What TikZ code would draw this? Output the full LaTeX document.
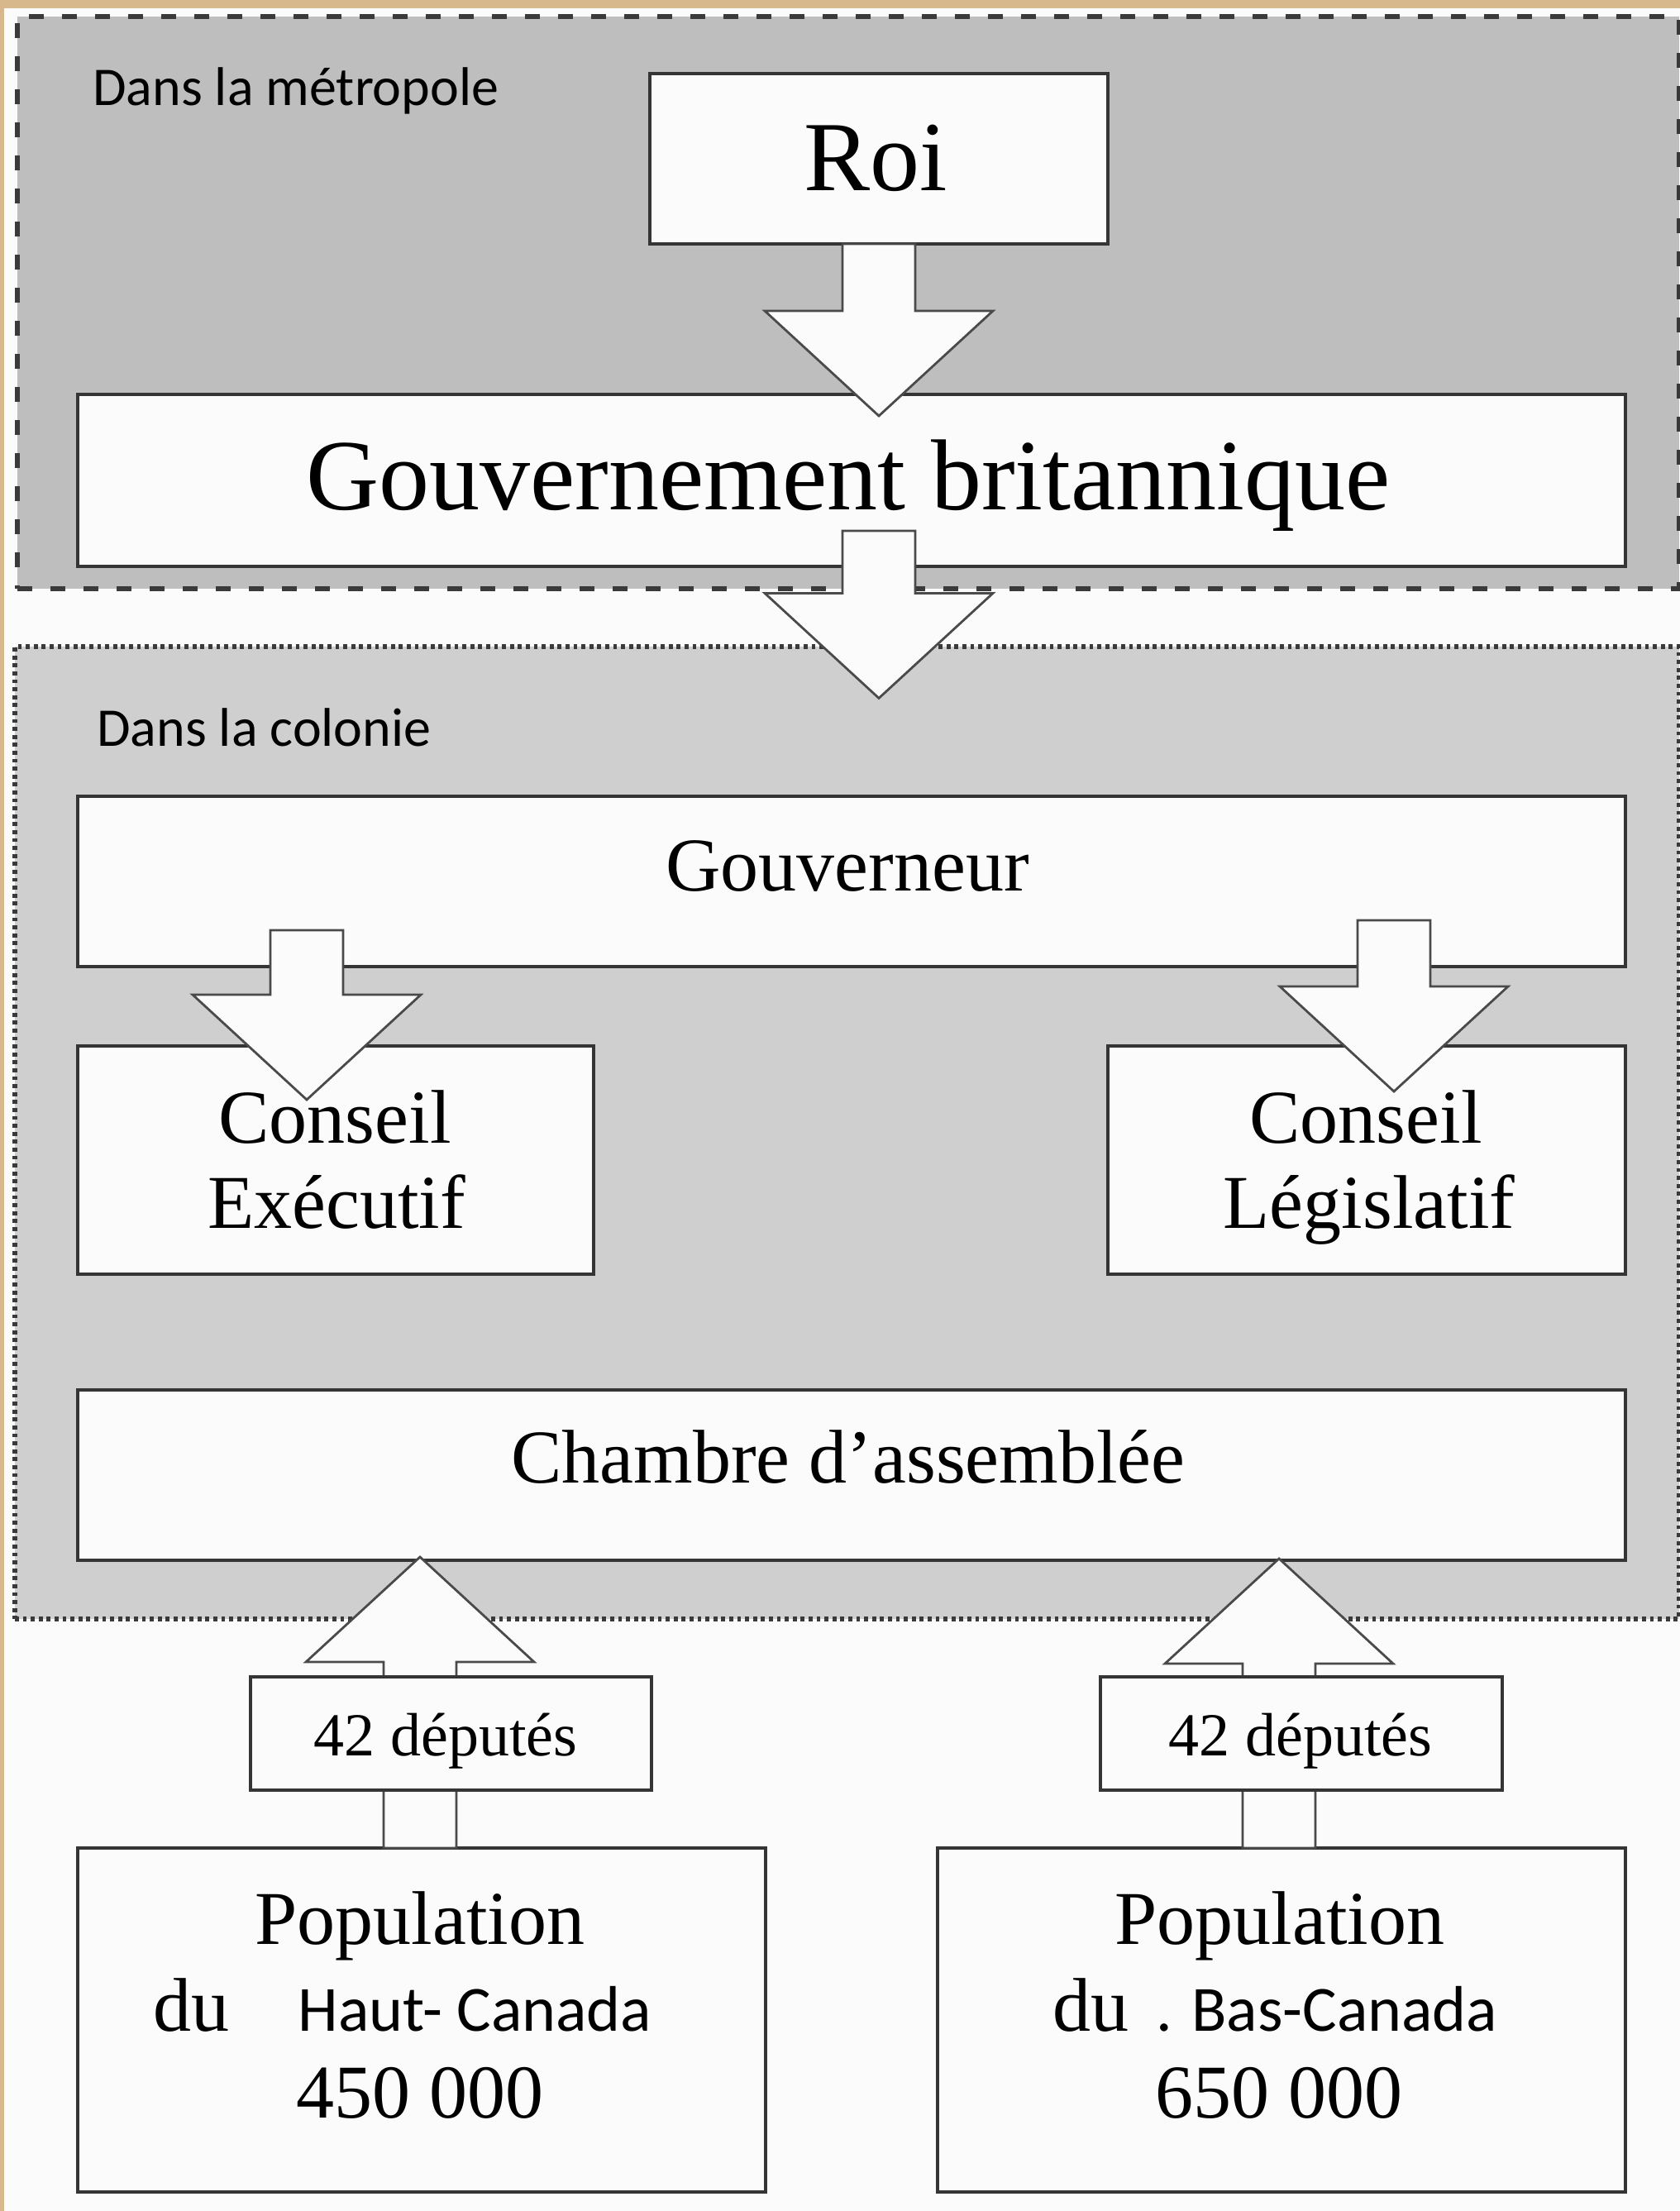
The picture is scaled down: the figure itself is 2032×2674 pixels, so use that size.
\documentclass[tikz,border=0pt]{standalone}
\usepackage{fontspec}
\setmainfont{Liberation Serif}
\newfontfamily\calib{Carlito}
\usetikzlibrary{calc}
\definecolor{woodtan}{HTML}{D6B88C}
\definecolor{boxline}{HTML}{353535}
\definecolor{arrowline}{HTML}{4A4A4A}
\definecolor{zoneline}{HTML}{3A3A3A}
\definecolor{metrofill}{HTML}{BEBEBE}
\definecolor{colofill}{HTML}{CFCFCF}
\definecolor{pagebg}{HTML}{FBFBFB}
\newcommand\arrowdown[2]{%
  \draw[barrow] let \p1=(#1), \p2=(#2) in
    (\x2-22pt,\y1) -- (\x2+22pt,\y1) -- (\x2+22pt,\y2+63.5pt) -- (\x2+69pt,\y2+63.5pt)
    -- (\x2,\y2) -- (\x2-69pt,\y2+63.5pt) -- (\x2-22pt,\y2+63.5pt) -- cycle;}
\newcommand\arrowup[2]{%
  \draw[barrow] let \p1=(#1), \p2=(#2) in
    (\x2-22pt,\y1) -- (\x2+22pt,\y1) -- (\x2+22pt,\y2-63.5pt) -- (\x2+69pt,\y2-63.5pt)
    -- (\x2,\y2) -- (\x2-69pt,\y2-63.5pt) -- (\x2-22pt,\y2-63.5pt) -- cycle;}
\begin{document}
\begin{tikzpicture}[x=0.5pt,y=-0.5pt,
  box/.style={rectangle, draw=boxline, line width=1.9pt, fill=pagebg, inner sep=0pt, outer sep=0pt},
  barrow/.style={draw=arrowline, line width=1.4pt, fill=pagebg, line join=miter},
  lbl/.style={inner sep=0pt, outer sep=0pt, anchor=base},
  big/.style={font=\fontsize{60}{72}\selectfont},
  mid/.style={font=\fontsize{46}{55}\selectfont},
  small/.style={font=\fontsize{37}{44}\selectfont},
  sanslbl/.style={font=\calib\fontsize{33}{40}\selectfont, inner sep=0pt, anchor=base west},
  sansname/.style={font=\calib\fontsize{39}{47}\selectfont, inner sep=0pt, anchor=base west},
]
\useasboundingbox (0,0) rectangle (2032,2674);
\fill[pagebg] (0,0) rectangle (2032,2674);
\fill[woodtan] (0,0) rectangle (2032,10);
\fill[woodtan] (0,0) rectangle (5,2674);

% zones
\node[rectangle, draw=zoneline, fill=metrofill, line width=3pt, dash pattern=on 9pt off 11pt,
      inner sep=0pt, minimum width=1005pt, minimum height=346pt] (metro) at (1026,366) {};
\node[rectangle, draw=zoneline, fill=colofill, line width=2.6pt, dash pattern=on 2.4pt off 2.4pt,
      inner sep=0pt, minimum width=1006.5pt, minimum height=588pt] (colonie) at (1024.5,1370) {};
\node[sanslbl] (lmetro) at (112,128) {Dans la métropole};
\node[sanslbl] (lcolonie) at (117,902) {Dans la colonie};

% boxes
\node[box, minimum width=277pt, minimum height=103pt] (roi) at (1063,192) {};
\node[box, minimum width=936pt, minimum height=104pt] (gb) at (1030,581) {};
\node[box, minimum width=936pt, minimum height=103pt] (gouv) at (1030,1066) {};
\node[box, minimum width=312pt, minimum height=138pt] (ce) at (406,1403) {};
\node[box, minimum width=313pt, minimum height=138pt] (cl) at (1653,1403) {};
\node[box, minimum width=936pt, minimum height=103pt] (ch) at (1030,1784) {};
\node[box, minimum width=416pt, minimum height=208pt] (p1) at (510,2443) {};
\node[box, minimum width=416pt, minimum height=208pt] (p2) at (1550,2443) {};

% block arrows
\arrowdown{roi.south}{$(roi.south)+(0,208)$}
\arrowdown{$(roi.south |- gb.south)+(0,-43)$}{$(roi.south |- colonie.north)+(0,65)$}
\arrowdown{$(gouv.south)+(0,-44)$}{$(ce.north)+(-35,65)$}
\arrowdown{$(gouv.south)+(0,-56)$}{$(cl.north)+(33,55)$}
\arrowup{p1.north}{$(p1.north |- ch.south)+(-2,-4)$}
\arrowup{p2.north}{$(p2.north |- ch.south)+(-3,-2)$}

% deputies boxes (on top of the arrow shafts)
\node[box, minimum width=242.5pt, minimum height=68.5pt] (d1) at (545.5,2096.5) {};
\node[box, minimum width=243pt, minimum height=68.5pt] (d2) at (1574,2096.5) {};

% texts
\node[lbl, big] (troi) at (1059,231) {Roi};
\node[lbl, font=\fontsize{61}{73}\selectfont] (tgb) at (1026,617) {Gouvernement britannique};
\node[lbl, mid] (tgouv) at (1025,1077) {Gouverneur};
\node[lbl, mid] (tce1) at (405,1382) {Conseil};
\node[lbl, mid] (tce2) at (407,1485) {Exécutif};
\node[lbl, mid] (tcl1) at (1652,1382) {Conseil};
\node[lbl, mid] (tcl2) at (1656,1485) {Législatif};
\node[lbl, mid] (tch) at (1026,1793) {Chambre d’assemblée};
\node[lbl, small] (td1) at (539,2123) {42 députés};
\node[lbl, small] (td2) at (1573,2123) {42 députés};

\node[lbl, mid] (tp1a) at (508,2351) {Population};
\node[lbl, mid, anchor=base west] (tp1b) at (185,2456) {du};
\node[sansname] (tp1c) at (360,2456) {Haut- Canada};
\node[lbl, mid] (tp1d) at (508,2561) {450 000};

\node[lbl, mid] (tp2a) at (1548,2351) {Population};
\node[lbl, mid, anchor=base west] (tp2b) at (1273,2456) {du};
\node[sansname] (tp2c) at (1398,2456) {. Bas-Canada};
\node[lbl, mid] (tp2d) at (1547,2561) {650 000};
\end{tikzpicture}
\end{document}
